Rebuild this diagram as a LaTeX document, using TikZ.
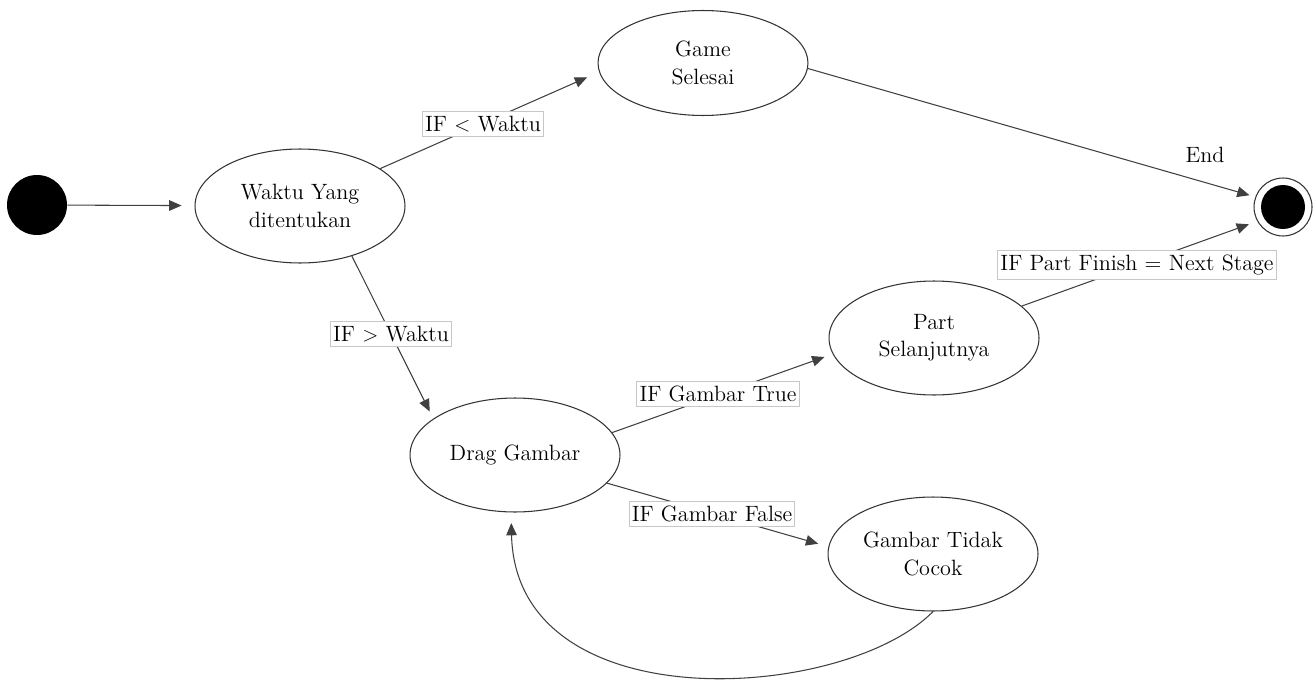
\documentclass[tikz,border=0pt]{standalone}
\usetikzlibrary{shapes.geometric,arrows.meta}
\begin{document}
\begin{tikzpicture}[x=0.02cm,y=-0.02cm,
  font=\rmfamily\fontsize{12.6}{15.5}\selectfont,
  st/.style={ellipse, draw=black!80, line width=0.6pt, minimum width=4.2cm, minimum height=2.28cm, inner sep=0pt, align=center},
  tr/.style={draw=black!75, line width=0.6pt, -{Triangle[length=7pt,width=6pt]}},
  lbl/.style={fill=white, draw=black!22, line width=0.5pt, inner xsep=1.5pt, inner ysep=2.4pt}]
\useasboundingbox (0,0) rectangle (1314,679);

\node[circle, fill=black, minimum size=1.2cm, inner sep=0pt] (init) at (37,205) {};
\node[st] (w) at (300,206) {Waktu Yang\\ditentukan};
\node[st, minimum height=2.1cm] (g) at (703,63) {Game\\Selesai};
\node[st] (d) at (515,455) {Drag Gambar};
\node[st] (p) at (934,338) {Part\\Selanjutnya};
\node[st] (c) at (933,554) {Gambar Tidak\\Cocok};
\node[circle, draw=black!80, line width=0.6pt, minimum size=1.16cm, inner sep=0pt] (fin) at (1283,207) {};
\node[circle, fill=black, minimum size=0.88cm, inner sep=0pt] (fincore) at (fin.center) {};

\draw[tr, shorten >=7.4pt] (init) -- (w);
\draw[tr, shorten >=7.4pt] (w.25) -- (g.185);
\draw[tr, shorten >=3.4pt] (g.357) -- (fin.160);
\draw[tr, shorten >=4.5pt] (w.316) -- (d.156.5);
\draw[tr, shorten >=5pt] (d.13) -- (p.189);
\draw[tr, shorten >=5pt] (p.20) -- (fin.209);
\draw[tr, shorten >=6pt] (d.343) -- (c.176);
\draw[tr, shorten >=6pt] (c.270) .. controls (844,702) and (516,723) .. (d.266);

\node[lbl] (l1) at (483,124) {IF $<$ Waktu};
\node (l2) at (1205,155) {End};
\node[lbl] (l3) at (391,334) {IF $>$ Waktu};
\node[lbl] (l4) at (718,394) {IF Gambar True};
\node[lbl] (l5) at (1137,265) {IF Part Finish = Next Stage};
\node[lbl] (l6) at (712,514) {IF Gambar False};
\end{tikzpicture}
\end{document}
